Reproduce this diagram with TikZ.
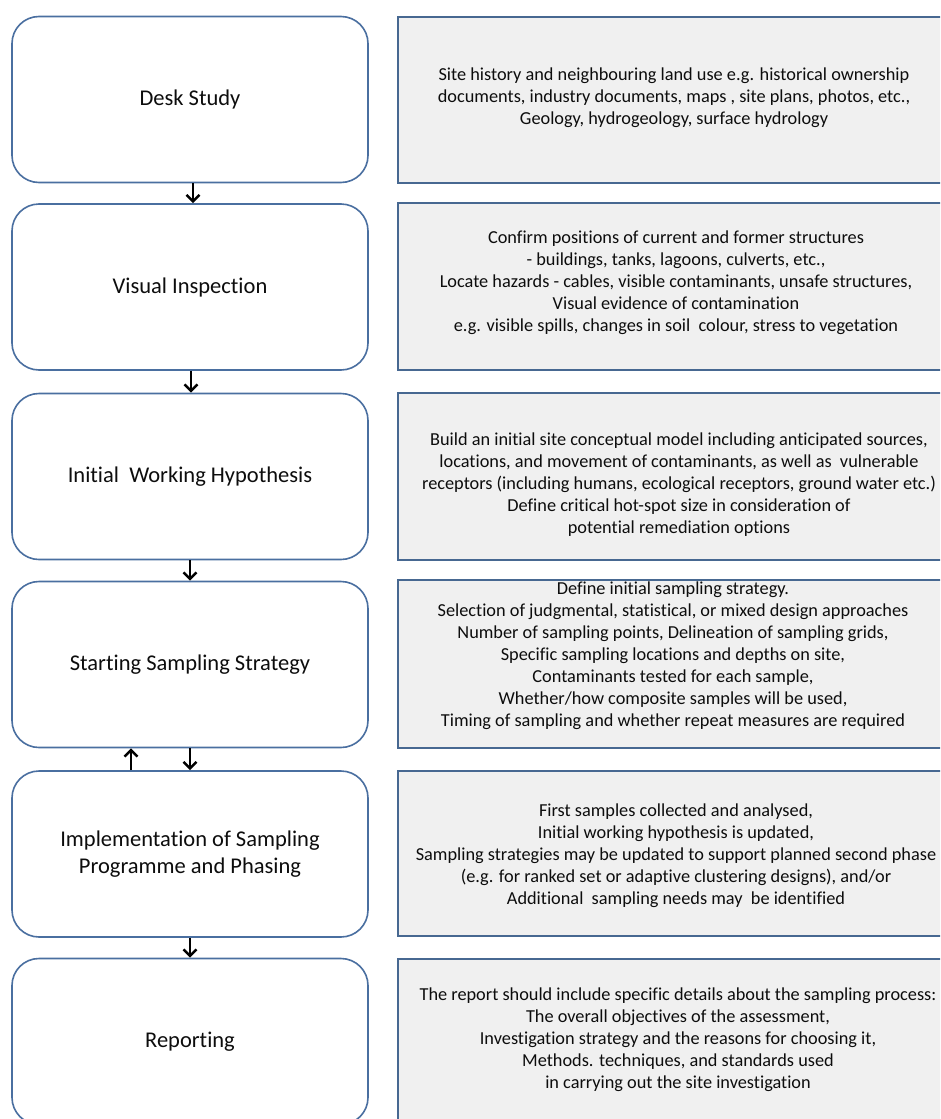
\documentclass[tikz,border=0pt]{standalone}
\usepackage{fontspec}
\setmainfont{Carlito}[Ligatures={NoCommon}]
\usetikzlibrary{arrows.meta}
\definecolor{lborder}{HTML}{4A6FA0}
\definecolor{rborder}{HTML}{476891}
\definecolor{rfill}{HTML}{F0F0F0}
\definecolor{txt}{HTML}{0D0D0D}
\begin{document}
\begin{tikzpicture}[x=1pt,y=-1pt,
  stage/.style={draw=lborder, line width=1.6pt, fill=white, rounded corners=27pt,
    minimum width=356pt, minimum height=166pt, inner sep=0pt, align=center,
    font=\fontsize{22.5}{27}\selectfont, text=txt},
  detail/.style={draw=rborder, line width=1.6pt, fill=rfill,
    minimum width=602pt, inner sep=0pt},
  dtext/.style={align=center, font=\fontsize{18.3}{22}\selectfont, text=txt, inner sep=0pt},
  flow/.style={-{Straight Barb[length=6.5pt,width=13pt,line width=2.5pt]}, line width=2.5pt, black}
]
\useasboundingbox (0,0) rectangle (940,1119);
\clip (0,0) rectangle (940,1119);
\fill[white] (0,0) rectangle (940,1119);

% left stages
\node[stage] (L1) at (190,99.5) {Desk Study};
\node[stage] (L2) at (190,287) {Visual Inspection};
\node[stage] (L3) at (190,476.5) {Initial\ \ Working Hypothesis};
\node[stage] (L4) at (190,664.5) {Starting Sampling Strategy};
\node[stage] (L5) at (190,854) {Implementation of Sampling\\Programme and Phasing};
\node[stage] (L6) at (190,1041.5) {Reporting};

% right detail boxes
\node[detail, minimum height=166pt] (R1) at (699,100) {};
\node[detail, minimum height=167pt] (R2) at (699,286.5) {};
\node[detail, minimum height=167pt] (R3) at (699,476.5) {};
\node[detail, minimum height=168pt] (R4) at (699,664) {};
\node[detail, minimum height=165pt] (R5) at (699,853.5) {};
\node[detail, minimum height=165pt] (R6) at (699,1041.5) {};

\node[dtext] (T1) at (674,97.5) {Site history and neighbouring land use e.g. historical ownership\\
documents, industry documents, maps , site plans, photos, etc.,\\
Geology, hydrogeology, surface hydrology};
\node[dtext] (T2) at (676,283) {Confirm positions of current and former structures\\
- buildings, tanks, lagoons, culverts, etc.,\\
Locate hazards - cables, visible contaminants, unsafe structures,\\
Visual evidence of contamination\\
e.g. visible spills, changes in soil\ \ colour, stress to vegetation};
\node[dtext] (T3) at (679,485) {Build an initial site conceptual model including anticipated sources,\\
locations, and movement of contaminants, as well as\ \ vulnerable\\
receptors (including humans, ecological receptors, ground water etc.)\\
Define critical hot-spot size in consideration of\\
potential remediation options};
\node[dtext] (T4) at (673,656) {Define initial sampling strategy.\\
Selection of judgmental, statistical, or mixed design approaches\\
Number of sampling points, Delineation of sampling grids,\\
Specific sampling locations and depths on site,\\
Contaminants tested for each sample,\\
Whether/how composite samples will be used,\\
Timing of sampling and whether repeat measures are required};
\node[dtext] (T5) at (676,856) {First samples collected and analysed,\\
Initial working hypothesis is updated,\\
Sampling strategies may be updated to support planned second phase\\
(e.g. for ranked set or adaptive clustering designs), and/or\\
Additional\ \ sampling needs may\ \ be identified};
\node[dtext] (T6) at (678,1040) {The report should include specific details about the sampling process:\\
The overall objectives of the assessment,\\
Investigation strategy and the reasons for choosing it,\\
Methods. techniques, and standards used\\
in carrying out the site investigation};

% connectors
\draw[flow] ([xshift=3pt]L1.south) -- ([xshift=3pt]L2.north);
\draw[flow] ([xshift=1pt]L2.south) -- ([xshift=1pt]L3.north);
\draw[flow] (L3.south) -- (L4.north);
\draw[flow] (L4.south) -- (L5.north);
\draw[flow] ([xshift=-59pt]L5.north) -- ([xshift=-59pt]L4.south);
\draw[flow] (L5.south) -- (L6.north);
\end{tikzpicture}
\end{document}
